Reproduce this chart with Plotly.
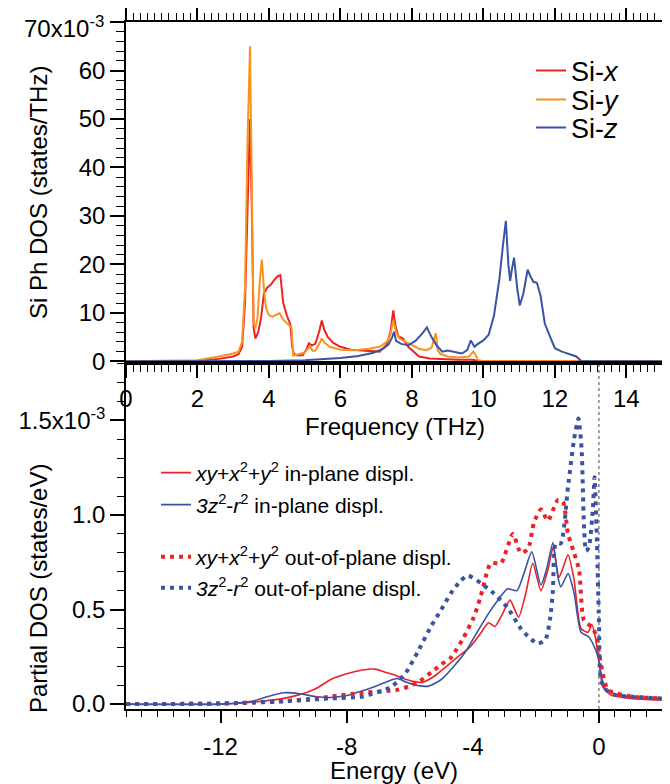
import plotly.graph_objects as go

FONT = "Liberation Sans, Arial, Helvetica, sans-serif"
RED = "#ec2227"
ORANGE = "#f7941d"
BLUE = "#3a53a4"

# ---------------- top panel: Si phonon DOS (units of 1e-3 states/THz) ----------------
six_freq = [0, 2.0, 2.6, 3.0, 3.15, 3.25, 3.33, 3.40, 3.47, 3.52, 3.57, 3.62, 3.70, 3.78, 3.86, 3.95,
            4.05, 4.15, 4.25, 4.32, 4.40, 4.50, 4.60, 4.65, 4.70, 4.80, 4.95, 5.05, 5.12, 5.20, 5.30,
            5.40, 5.48, 5.55, 5.65, 5.80, 6.00, 6.30, 6.60, 6.90, 7.10, 7.30, 7.40, 7.48, 7.55, 7.62,
            7.75, 7.90, 8.05, 8.20, 8.50, 8.90, 9.30, 9.70, 9.90, 15]
six_dos = [0, 0.1, 0.5, 1.0, 1.5, 3, 12, 34, 50, 32, 7, 4.7, 6, 9, 14, 15.2,
           15.8, 16.8, 17.6, 17.8, 12, 9.5, 7.6, 3.0, 1.5, 1.2, 1.3, 2.5, 3.7, 3.3, 3.6,
           6.0, 8.4, 6.5, 5.0, 3.8, 3.0, 2.4, 2.3, 2.2, 2.0, 3.5, 6.0, 10.5, 7.0, 5.2,
           4.7, 3.0, 2.0, 1.0, 0.6, 0.4, 0.3, 0.3, 0, 0]

siy_freq = [0, 2.0, 2.6, 3.0, 3.15, 3.25, 3.33, 3.40, 3.47, 3.52, 3.57, 3.62, 3.68, 3.75, 3.80, 3.86,
            3.92, 4.0, 4.1, 4.2, 4.3, 4.4, 4.5, 4.6, 4.63, 4.68, 4.8, 5.0, 5.08, 5.15, 5.22, 5.3,
            5.4, 5.48, 5.56, 5.7, 6.0, 6.4, 6.8, 7.1, 7.3, 7.4, 7.48, 7.56, 7.65, 7.8, 8.0, 8.2,
            8.4, 8.55, 8.62, 8.67, 8.72, 8.8, 9.0, 9.3, 9.6, 9.72, 9.78, 9.85, 10, 15]
siy_dos = [0, 0.2, 1.0, 1.6, 2.0, 4, 15, 45, 65, 40, 8, 6.8, 9, 17, 21, 15,
           11, 9.5, 9.2, 9.6, 9.9, 8.6, 7.8, 7.2, 7.0, 1.2, 1.4, 1.8, 2.5, 3.1, 2.2, 2.2,
           3.5, 4.7, 3.8, 3.0, 2.4, 2.3, 2.6, 3.0, 4.0, 5.5, 8.5, 6.0, 4.7, 4.1, 3.3, 2.6,
           2.3, 2.8, 4.5, 5.8, 2.3, 1.5, 1.0, 0.8, 1.0, 2.0, 1.4, 0.3, 0, 0]

siz_freq = [0, 3.0, 4.0, 5.0, 5.5, 6.0, 6.5, 6.9, 7.2, 7.35, 7.45, 7.5, 7.56, 7.7, 7.9, 8.1, 8.3,
            8.42, 8.55, 8.7, 8.85, 9.0, 9.2, 9.4, 9.55, 9.65, 9.75, 9.85, 10.0, 10.15, 10.3, 10.45,
            10.55, 10.63, 10.7, 10.75, 10.8, 10.86, 10.95, 11.02, 11.12, 11.24, 11.32, 11.4, 11.5,
            11.6, 11.72, 11.86, 12.0, 12.2, 12.4, 12.6, 12.75, 15]
siz_dos = [0, 0, 0.05, 0.2, 0.4, 0.7, 1.1, 1.7, 2.6, 3.5, 5, 6.1, 4.2, 3.6, 3.3, 4.2, 5.8,
           7.0, 5.0, 3.2, 2.0, 2.2, 1.9, 1.6, 2.3, 4.3, 3.0, 3.6, 4.3, 5.5, 9.5, 17,
           24, 29, 20, 16.6, 19, 21.4, 15, 11.5, 14, 18.9, 17.5, 16.4, 16.2,
           13.6, 7.8, 5.4, 2.7, 2.0, 1.5, 1.0, 0, 0]

top_ytick_vals = [0, 10, 20, 30, 40, 50, 60, 70]
top_ytick_text = ["0", "10", "20", "30", "40", "50", "60", ""]
top_ymax_label = "70x10<sup>-3</sup>"
top_xtick_vals = [0, 2, 4, 6, 8, 10, 12, 14]

# ---------------- bottom panel: partial DOS (units of 1e-3 states/eV) ----------------
ip_xy_e = [-15, -12, -11, -10, -9.5, -9, -8.5, -8, -7.5, -7.1, -6.8, -6.5, -6.2, -5.9, -5.6, -5.2,
           -4.8, -4.4, -4.1, -3.75, -3.5, -3.3, -3.05, -2.82, -2.55, -2.32, -2.1, -1.84, -1.62,
           -1.45, -1.27, -1.14, -0.98, -0.79, -0.57, -0.35, -0.22, -0.1, 0, 0.13, 0.38, 1.0, 2.0]
ip_xy_dos = [0, 0, 0.01, 0.03, 0.05, 0.08, 0.13, 0.16, 0.18, 0.185, 0.17, 0.155, 0.135, 0.12, 0.115, 0.15,
             0.205, 0.26, 0.30, 0.375, 0.43, 0.41, 0.48, 0.55, 0.46, 0.585, 0.745, 0.60, 0.71,
             0.83, 0.67, 0.72, 0.79, 0.66, 0.40, 0.38, 0.42, 0.34, 0.23, 0.09, 0.048, 0.03, 0.02]

ip_z2_e = [-15, -12, -11, -10.5, -10, -9.5, -9, -8.5, -8, -7.5, -7, -6.7, -6.4, -6.1, -5.8, -5.4,
           -5.0, -4.6, -4.2, -3.9, -3.5, -3.2, -2.9, -2.6, -2.38, -2.13, -1.84, -1.65, -1.46,
           -1.3, -1.21, -0.98, -0.79, -0.57, -0.32, -0.1, 0, 0.16, 0.48, 1.0, 2.0]
ip_z2_dos = [0, 0, 0.015, 0.04, 0.06, 0.055, 0.04, 0.035, 0.045, 0.07, 0.10, 0.12, 0.135, 0.115, 0.10, 0.095,
             0.13, 0.20, 0.285, 0.37, 0.48, 0.55, 0.61, 0.60, 0.69, 0.805, 0.63, 0.72, 0.855,
             0.67, 0.62, 0.69, 0.59, 0.38, 0.355, 0.285, 0.23, 0.09, 0.055, 0.04, 0.03]

op_xy_e = [-15, -12, -10, -9, -8.5, -7.5, -6.4, -6.0, -5.7, -5.3, -5.0, -4.7, -4.3, -3.97, -3.75,
           -3.43, -3.11, -2.73, -2.48, -2.25, -2.06, -1.84, -1.62, -1.3, -1.14, -0.98, -0.79,
           -0.63, -0.48, -0.25, -0.1, 0.06, 0.29, 1.0, 2.0]
op_xy_dos = [0, 0.003, 0.015, 0.03, 0.04, 0.06, 0.075, 0.095, 0.12, 0.17, 0.21, 0.245, 0.35, 0.46, 0.57,
             0.745, 0.745, 0.90, 0.80, 0.82, 0.96, 1.03, 0.97, 1.08, 1.07, 0.90, 0.80,
             0.71, 0.445, 0.41, 0.37, 0.215, 0.075, 0.04, 0.03]

op_z2_e = [-15, -12, -10, -9, -8.5, -7.5, -6.6, -6.13, -5.75, -5.33, -5.0, -4.7, -4.4, -4.16, -3.75,
           -3.33, -2.9, -2.48, -2.2, -1.94, -1.7, -1.55, -1.46, -1.37, -1.21, -0.98, -0.79, -0.65,
           -0.55, -0.48, -0.41, -0.32, -0.19, -0.14, -0.07, 0, 0.06, 0.2, 0.48, 1.0, 2.0]
op_z2_dos = [0, 0.003, 0.015, 0.025, 0.03, 0.04, 0.09, 0.165, 0.275, 0.41, 0.50, 0.585, 0.65, 0.68, 0.64,
             0.585, 0.51, 0.40, 0.35, 0.32, 0.34, 0.45, 0.60, 0.85, 0.85, 1.15, 1.40, 1.51,
             1.35, 0.97, 0.81, 0.83, 1.04, 1.2, 0.9, 0.44, 0.13, 0.08, 0.05, 0.04, 0.03]

bot_ytick_vals = [0, 0.5, 1.0, 1.5]
bot_ytick_text = ["0.0", "0.5", "1.0", "1.5x10<sup>-3</sup>"]
bot_xtick_vals = [-12, -8, -4, 0]
bot_xtick_text = ["-12", "-8", "-4", "0"]

# ---------------- figure ----------------
fig = go.Figure()

fig.add_trace(go.Scatter(x=six_freq, y=six_dos, mode="lines", name="Si-<i>x</i>",
                         line=dict(color=RED, width=2), xaxis="x", yaxis="y", legend="legend"))
fig.add_trace(go.Scatter(x=siy_freq, y=siy_dos, mode="lines", name="Si-<i>y</i>",
                         line=dict(color=ORANGE, width=2), xaxis="x", yaxis="y", legend="legend2"))
fig.add_trace(go.Scatter(x=siz_freq, y=siz_dos, mode="lines", name="Si-<i>z</i>",
                         line=dict(color=BLUE, width=2), xaxis="x", yaxis="y", legend="legend3"))

fig.add_trace(go.Scatter(x=ip_xy_e, y=ip_xy_dos, mode="lines",
                         name="<i>xy</i>+<i>x</i><sup>2</sup>+<i>y</i><sup>2</sup> in-plane displ.",
                         line=dict(color=RED, width=1.6, shape="spline", smoothing=0.6),
                         xaxis="x2", yaxis="y2", legend="legend4"))
fig.add_trace(go.Scatter(x=ip_z2_e, y=ip_z2_dos, mode="lines",
                         name="<i>3z</i><sup>2</sup>-<i>r</i><sup>2</sup> in-plane displ.",
                         line=dict(color=BLUE, width=1.6, shape="spline", smoothing=0.6),
                         xaxis="x2", yaxis="y2", legend="legend5"))
fig.add_trace(go.Scatter(x=op_xy_e, y=op_xy_dos, mode="lines",
                         name="<i>xy</i>+<i>x</i><sup>2</sup>+<i>y</i><sup>2</sup> out-of-plane displ.",
                         line=dict(color=RED, width=4, dash="4px,5px", shape="spline", smoothing=0.6),
                         xaxis="x2", yaxis="y2", legend="legend6"))
fig.add_trace(go.Scatter(x=op_z2_e, y=op_z2_dos, mode="lines",
                         name="<i>3z</i><sup>2</sup>-<i>r</i><sup>2</sup> out-of-plane displ.",
                         line=dict(color=BLUE, width=4, dash="4px,5px", shape="spline", smoothing=0.6),
                         xaxis="x2", yaxis="y2", legend="legend7"))

# page offset: the html body has an 8px margin, so the figure is sized to fit the window
OFF = 8
W, H = 670 - OFF, 784 - OFF
ML, MR, MT, MB = 126 - OFF, 8, 22 - OFF, 75
PW = W - ML - MR
PH = H - MT - MB
y_split = (709 - 363) / PH


def px_to_paper_x(px):
    return (px - OFF - ML) / PW


def py_to_paper_y(py):
    return (H - MB - (py - OFF)) / PH


axis_common = dict(showgrid=False, zeroline=False, showline=True, linecolor="black", linewidth=1.5,
                   ticks="outside", tickcolor="black", tickwidth=1.5, automargin=False,
                   tickfont=dict(family=FONT, size=24, color="black"))

fig.update_layout(
    width=W, height=H,
    margin=dict(l=ML, r=MR, t=MT, b=MB, autoexpand=False),
    paper_bgcolor="white", plot_bgcolor="white",
    font=dict(family=FONT, size=24, color="black"),
    showlegend=True,
    xaxis=dict(**axis_common, domain=[0, 1], anchor="y", range=[0, 15],
               tickmode="array", tickvals=top_xtick_vals, ticklen=13, mirror="ticks",
               ticklabelstandoff=0,
               minor=dict(tick0=0, dtick=0.2, ticks="outside", ticklen=7, tickwidth=1, tickcolor="black")),
    yaxis=dict(**axis_common, domain=[y_split, 1], anchor="x", range=[-0.35, 70.02],
               tickmode="array", tickvals=top_ytick_vals, ticktext=top_ytick_text, ticklen=14, mirror=True,
               ticklabelstandoff=0,
               minor=dict(tick0=0, dtick=2, ticks="outside", ticklen=8, tickwidth=1, tickcolor="black")),
    xaxis2=dict(**axis_common, domain=[0, 1], anchor="y2", range=[-15, 2],
                tickmode="array", tickvals=bot_xtick_vals, ticktext=bot_xtick_text, ticklen=12,
                mirror=True, ticklabelstandoff=3,
                minor=dict(tick0=0, dtick=0.5, ticks="outside", ticklen=6, tickwidth=1, tickcolor="black")),
    yaxis2=dict(**axis_common, domain=[0, y_split], anchor="x2", range=[-0.026, 1.804],
                tickmode="array", tickvals=bot_ytick_vals, ticktext=bot_ytick_text, ticklen=14, mirror=True,
                ticklabelstandoff=0,
                minor=dict(tick0=0, dtick=0.1, ticks="outside", ticklen=7, tickwidth=1, tickcolor="black")),
)

# legends (one per entry for exact placement)
top_leg_font = dict(family=FONT, size=27, color="black")
bot_leg_font = dict(family=FONT, size=21, color="black")
top_rows = [71, 100, 128]
bot_rows = [473, 505, 557, 588]
leg_names = ["legend", "legend2", "legend3", "legend4", "legend5", "legend6", "legend7"]
for i, py in enumerate(top_rows):
    fig.update_layout({leg_names[i]: dict(x=px_to_paper_x(570 - 39), y=py_to_paper_y(py),
                                          xanchor="left", yanchor="middle", bgcolor="rgba(0,0,0,0)",
                                          font=top_leg_font, borderwidth=0)})
for j, py in enumerate(bot_rows):
    fig.update_layout({leg_names[3 + j]: dict(x=px_to_paper_x(195 - 39), y=py_to_paper_y(py),
                                              xanchor="left", yanchor="middle", bgcolor="rgba(0,0,0,0)",
                                              font=bot_leg_font, borderwidth=0)})

# vertical dotted reference line at E = 0
fig.add_shape(type="line", xref="x2", yref="y2 domain", x0=0, x1=0, y0=0, y1=1,
              line=dict(color="#444444", width=1, dash="dot"), layer="below")

# top tick label of the upper panel (placed just below its tick, as in the original)
fig.add_annotation(text=top_ymax_label, xref="paper", yref="paper",
                   x=px_to_paper_x(106), y=py_to_paper_y(27), showarrow=False,
                   xanchor="right", yanchor="middle", font=dict(family=FONT, size=24, color="black"))

# axis titles as annotations
fig.add_annotation(text="Si Ph DOS (states/THz)", xref="paper", yref="paper",
                   x=px_to_paper_x(38), y=py_to_paper_y(193), textangle=-90, showarrow=False,
                   xanchor="center", yanchor="middle", font=dict(family=FONT, size=24, color="black"))
fig.add_annotation(text="Partial DOS (states/eV)", xref="paper", yref="paper",
                   x=px_to_paper_x(38), y=py_to_paper_y(589), textangle=-90, showarrow=False,
                   xanchor="center", yanchor="middle", font=dict(family=FONT, size=24, color="black"))
fig.add_annotation(text="Frequency (THz)", xref="paper", yref="paper",
                   x=px_to_paper_x(395), y=py_to_paper_y(427), showarrow=False,
                   xanchor="center", yanchor="middle", font=dict(family=FONT, size=24, color="black"))
fig.add_annotation(text="Energy (eV)", xref="paper", yref="paper",
                   x=px_to_paper_x(394), y=py_to_paper_y(770), showarrow=False,
                   xanchor="center", yanchor="middle", font=dict(family=FONT, size=24, color="black"))

fig.write_html("out.html")
